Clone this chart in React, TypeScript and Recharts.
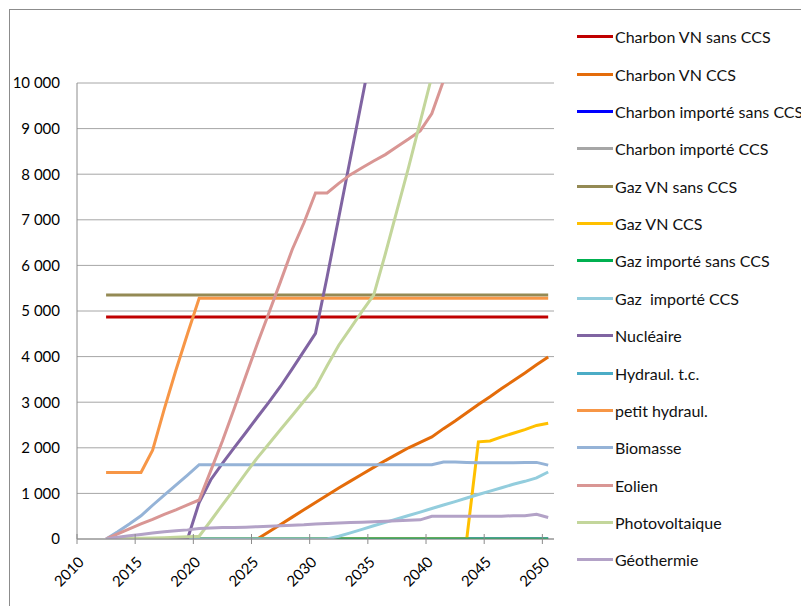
import React from 'react';
import { LineChart, Line, XAxis, YAxis, CartesianGrid } from 'recharts';

const years = [
  2012, 2013, 2014, 2015, 2016, 2017, 2018, 2019, 2020, 2021, 2022, 2023, 2024,
  2025, 2026, 2027, 2028, 2029, 2030, 2031, 2032, 2033, 2034, 2035, 2036, 2037,
  2038, 2039, 2040, 2041, 2042, 2043, 2044, 2045, 2046, 2047, 2048, 2049, 2050,
];

const charbonVnSansCcs = [
  4870, 4870, 4870, 4870, 4870, 4870, 4870, 4870, 4870, 4870, 4870, 4870, 4870,
  4870, 4870, 4870, 4870, 4870, 4870, 4870, 4870, 4870, 4870, 4870, 4870, 4870,
  4870, 4870, 4870, 4870, 4870, 4870, 4870, 4870, 4870, 4870, 4870, 4870, 4870,
];
const charbonVnCcs = [
  0, 0, 0, 0, 0, 0, 0, 0, 0, 0, 0, 0, 0,
  0, 160, 320, 480, 640, 800, 960, 1120, 1270, 1420, 1570, 1720, 1860,
  2000, 2120, 2240, 2420, 2590, 2770, 2950, 3120, 3300, 3470, 3640, 3820, 3990,
];
const charbonImporteSansCcs = [
  0, 0, 0, 0, 0, 0, 0, 0, 0, 0, 0, 0, 0,
  0, 0, 0, 0, 0, 0, 0, 0, 0, 0, 0, 0, 0,
  0, 0, 0, 0, 0, 0, 0, 0, 0, 0, 0, 0, 0,
];
const charbonImporteCcs = [
  0, 0, 0, 0, 0, 0, 0, 0, 0, 0, 0, 0, 0,
  0, 0, 0, 0, 0, 0, 0, 0, 0, 0, 0, 0, 0,
  0, 0, 0, 0, 0, 0, 0, 0, 0, 0, 0, 0, 0,
];
const gazVnSansCcs = [
  5350, 5350, 5350, 5350, 5350, 5350, 5350, 5350, 5350, 5350, 5350, 5350, 5350,
  5350, 5350, 5350, 5350, 5350, 5350, 5350, 5350, 5350, 5350, 5350, 5350, 5350,
  5350, 5350, 5350, 5350, 5350, 5350, 5350, 5350, 5350, 5350, 5350, 5350, 5350,
];
const gazVnCcs = [
  0, 0, 0, 0, 0, 0, 0, 0, 0, 0, 0, 0, 0,
  0, 0, 0, 0, 0, 0, 0, 0, 0, 0, 0, 0, 0,
  0, 0, 0, 0, 0, 0, 2130, 2150, 2240, 2320, 2400, 2490, 2540,
];
const gazImporteSansCcs = [
  0, 0, 0, 0, 0, 0, 0, 0, 0, 0, 0, 0, 0,
  0, 0, 0, 0, 0, 0, 0, 0, 0, 0, 0, 0, 0,
  0, 0, 0, 0, 0, 0, 0, 0, 0, 0, 0, 0, 0,
];
const gazImporteCcs = [
  0, 0, 0, 0, 0, 0, 0, 0, 0, 0, 0, 0, 0,
  0, 0, 0, 0, 0, 0, 0, 60, 135, 210, 290, 365, 440,
  515, 590, 670, 745, 820, 900, 975, 1050, 1125, 1200, 1265, 1340, 1470,
];
const nucleaire = [
  0, 0, 0, 0, 0, 0, 0, 0, 800, 1300, 1660, 2000, 2330,
  2670, 3000, 3350, 3730, 4120, 4510, 5750, 7050, 8350, 9650, 10950, null, null,
  null, null, null, null, null, null, null, null, null, null, null, null, null,
];
// no visible data for this one in the source chart
const hydraulTc: (number | null)[] = years.map(() => null);
const petitHydraul = [
  1460, 1460, 1460, 1460, 1950, 2850, 3700, 4500, 5280, 5280, 5280, 5280, 5280,
  5280, 5280, 5280, 5280, 5280, 5280, 5280, 5280, 5280, 5280, 5280, 5280, 5280,
  5280, 5280, 5280, 5280, 5280, 5280, 5280, 5280, 5280, 5280, 5280, 5280, 5280,
];
const biomasse = [
  0, 160, 330, 510, 740, 960, 1180, 1400, 1630, 1630, 1630, 1630, 1630,
  1630, 1630, 1630, 1630, 1630, 1630, 1630, 1630, 1630, 1630, 1630, 1630, 1630,
  1630, 1630, 1630, 1690, 1690, 1680, 1670, 1670, 1670, 1670, 1680, 1680, 1620,
];
const eolien = [
  0, 110, 220, 330, 430, 540, 640, 750, 855, 1500, 2150, 2850, 3570,
  4280, 4960, 5650, 6350, 6930, 7590, 7590, 7800, 7990, 8140, 8290, 8430, 8600,
  8770, 8950, 9330, 10050, 10800, null, null, null, null, null, null, null, null,
];
const photovoltaique = [
  0, 5, 10, 15, 20, 30, 40, 50, 60, 400, 750, 1090, 1440,
  1780, 2090, 2400, 2710, 3020, 3330, 3800, 4250, 4620, 4990, 5350, 6250, 7200,
  8150, 9150, 10150, 11100, null, null, null, null, null, null, null, null, null,
];
const geothermie = [
  0, 40, 70, 100, 130, 160, 180, 200, 230, 240, 250, 250, 260,
  270, 280, 290, 300, 310, 330, 340, 350, 360, 370, 380, 390, 400,
  410, 420, 500, 500, 500, 500, 500, 500, 500, 510, 510, 540, 470,
];

const yTicks = [0, 1000, 2000, 3000, 4000, 5000, 6000, 7000, 8000, 9000, 10000];
const xTicks = [2010, 2015, 2020, 2025, 2030, 2035, 2040, 2045, 2050];

const series = [
  { key: 'charbonVnSansCcs', name: 'Charbon VN sans CCS', color: '#C00000', values: charbonVnSansCcs },
  { key: 'charbonVnCcs', name: 'Charbon VN CCS', color: '#E46C0A', values: charbonVnCcs },
  { key: 'charbonImporteSansCcs', name: 'Charbon importé sans CCS', color: '#0000FF', values: charbonImporteSansCcs },
  { key: 'charbonImporteCcs', name: 'Charbon importé CCS', color: '#A6A6A6', values: charbonImporteCcs },
  { key: 'gazVnSansCcs', name: 'Gaz VN sans CCS', color: '#948A54', values: gazVnSansCcs },
  { key: 'gazVnCcs', name: 'Gaz VN CCS', color: '#FFC000', values: gazVnCcs },
  { key: 'gazImporteSansCcs', name: 'Gaz importé sans CCS', color: '#00B050', values: gazImporteSansCcs },
  { key: 'gazImporteCcs', name: 'Gaz  importé CCS', color: '#93CDDD', values: gazImporteCcs },
  { key: 'nucleaire', name: 'Nucléaire', color: '#8064A2', values: nucleaire },
  { key: 'hydraulTc', name: 'Hydraul. t.c.', color: '#4BACC6', values: hydraulTc },
  { key: 'petitHydraul', name: 'petit hydraul.', color: '#F79646', values: petitHydraul },
  { key: 'biomasse', name: 'Biomasse', color: '#95B3D7', values: biomasse },
  { key: 'eolien', name: 'Eolien', color: '#D99694', values: eolien },
  { key: 'photovoltaique', name: 'Photovoltaique', color: '#C3D69B', values: photovoltaique },
  { key: 'geothermie', name: 'Géothermie', color: '#B3A2C7', values: geothermie },
];

const data = years.map((year, i) => {
  const row: Record<string, number | null> = { year };
  series.forEach((s) => {
    row[s.key] = s.values[i];
  });
  return row;
});

const fmt = (v: number) => String(v).replace(/\B(?=(\d{3})+(?!\d))/g, ' ');

const axisColor = '#8c8c8c';

const XTick = (props: any) => {
  const { x, y, payload } = props;
  const tx = x + 8;
  const ty = y + 24;
  return (
    <g>
      <line x1={x} x2={x} y1={y - 5} y2={y + 5} stroke={axisColor} />
      <text x={tx} y={ty} textAnchor="end" fontSize={15} fill="#000" transform={`rotate(-45 ${tx} ${ty})`}>
        {payload.value}
      </text>
    </g>
  );
};

const Legend = () => (
  <div style={{ position: 'absolute', left: 569, top: 0 }}>
    {series.map((s, i) => (
      <div
        key={s.key}
        style={{
          position: 'absolute',
          top: 28.7 + i * 37.37 - 10,
          height: 20,
          display: 'flex',
          alignItems: 'center',
          whiteSpace: 'pre',
        }}
      >
        <div style={{ width: 36, height: 3, background: s.color }} />
        <span style={{ marginLeft: 2, fontSize: 16, color: '#111' }}>{s.name}</span>
      </div>
    ))}
  </div>
);

export default function App() {
  return (
    <div style={{ position: 'relative', width: 800, height: 598, fontFamily: 'Lato, sans-serif' }}>
      <div
        style={{
          position: 'absolute',
          left: 1,
          top: 1,
          right: 0,
          bottom: 0,
          borderLeft: `1px solid ${axisColor}`,
          borderTop: `1px solid ${axisColor}`,
        }}
      />
      <LineChart width={800} height={598} data={data} margin={{ top: 75, right: 254, bottom: 7, left: 9 }}>
        <CartesianGrid vertical={false} stroke="#a6a6a6" />
        <XAxis
          type="number"
          dataKey={(d: any) => d.year + 0.5}
          domain={[2010, 2051]}
          ticks={xTicks}
          interval={0}
          height={60}
          tickLine={false}
          tickSize={0}
          tickMargin={0}
          axisLine={{ stroke: axisColor }}
          tick={<XTick />}
        />
        <YAxis
          domain={[0, 10000]}
          ticks={yTicks}
          allowDataOverflow
          width={60}
          tickLine={false}
          tickSize={0}
          tickMargin={17}
          axisLine={{ stroke: axisColor }}
          tickFormatter={fmt}
          tick={{ fill: '#000', fontSize: 15 }}
        />
        {series.map((s) => (
          <Line
            key={s.key}
            dataKey={s.key}
            name={s.name}
            type="linear"
            stroke={s.color}
            strokeWidth={3}
            dot={false}
            activeDot={false}
            isAnimationActive={false}
          />
        ))}
      </LineChart>
      <Legend />
    </div>
  );
}
